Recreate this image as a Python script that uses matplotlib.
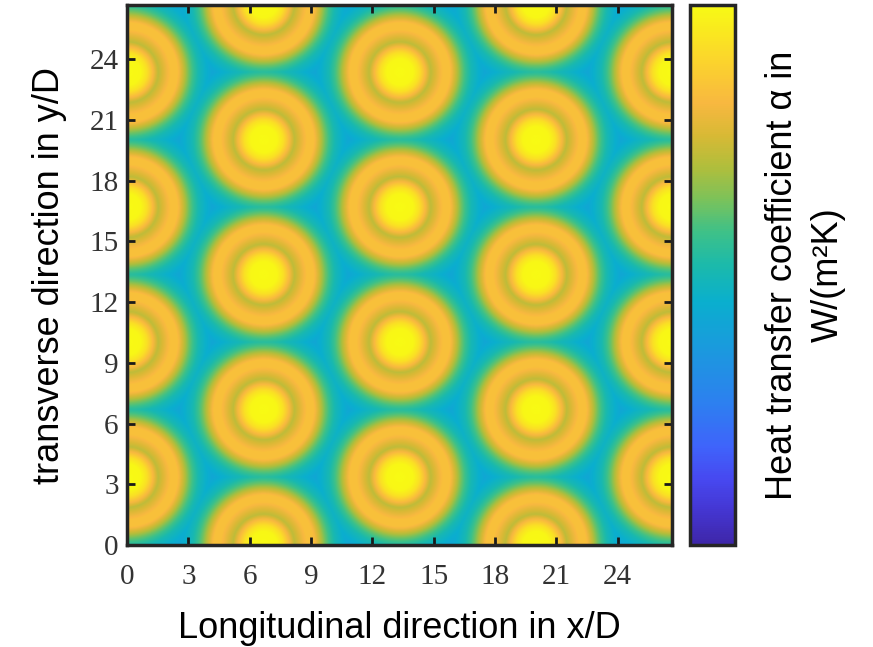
import numpy as np
import matplotlib.pyplot as plt
from matplotlib.colors import LinearSegmentedColormap

# Jet positions (x/D, y/D), staggered array
col_x_odd = [0.0, 13.33, 26.67]
col_y_odd = [-3.33, 3.33, 10.0, 16.67, 23.33, 30.0]
col_x_even = [6.67, 20.0]
col_y_even = [0.0, 6.67, 13.33, 20.0, 26.67]

# Radial heat transfer profile around one jet (normalised)
r_profile = [0.0, 0.65, 0.95, 1.2, 1.5, 1.8, 2.1, 2.45, 2.75, 3.0, 3.25, 3.5, 3.8, 4.2]
a_profile = [1.0, 0.99, 0.93, 0.84, 0.72, 0.78, 0.84, 0.84, 0.73, 0.63, 0.56, 0.50, 0.46, 0.41]

xticks = [0, 3, 6, 9, 12, 15, 18, 21, 24]
yticks = [0, 3, 6, 9, 12, 15, 18, 21, 24]
xmax = 26.67
ymax = 26.67

# parula-like colormap
parula_pos = [0.0, 0.06, 0.12, 0.18, 0.26, 0.35, 0.45, 0.52, 0.58, 0.64, 0.70, 0.76, 0.82, 0.90, 1.0]
parula_hex = ['#3e26a8', '#4435d0', '#4748f0', '#3f63fb', '#2d7ff0', '#1d96e0', '#0aafce',
              '#1cbaaa', '#3ec188', '#7bc25a', '#b0be3c', '#d8b935', '#f8b840', '#fbd52c', '#f8fa14']
parula = LinearSegmentedColormap.from_list('parula', list(zip(parula_pos, parula_hex)))

# build the field from nearest jet distance
jx = [x for x in col_x_odd for _ in col_y_odd] + [x for x in col_x_even for _ in col_y_even]
jy = col_y_odd * len(col_x_odd) + col_y_even * len(col_x_even)
xs = np.linspace(0, xmax, 500)
ys = np.linspace(0, ymax, 500)
X, Y = np.meshgrid(xs, ys)
dist = np.min([np.hypot(X - a, Y - b) for a, b in zip(jx, jy)], axis=0)
alpha = np.interp(dist, r_profile, a_profile)

fig = plt.figure(figsize=(8.73, 6.47), dpi=100)
ax = fig.add_axes([0.1455, 0.1576, 0.6245, 0.8347])
cax = fig.add_axes([0.790, 0.1576, 0.0515, 0.8347])

im = ax.imshow(alpha, extent=[0, xmax, 0, ymax], origin='lower', aspect='auto',
               cmap=parula, vmin=0, vmax=1, interpolation='bilinear')
ax.set_xlim(0, xmax)
ax.set_ylim(0, ymax)
ax.set_xticks(xticks)
ax.set_yticks(yticks)
ax.tick_params(direction='in', length=6, width=2, top=True, right=True,
               labelsize=21, color='#1a1a1a')
ax.tick_params(axis='x', pad=14)
ax.tick_params(axis='y', pad=6)
for lab in ax.get_xticklabels() + ax.get_yticklabels():
    lab.set_family('Liberation Serif')
    lab.set_color('#333333')
for s in ax.spines.values():
    s.set_linewidth(2.5)
    s.set_color('#262626')

ax.set_xlabel('Longitudinal direction in x/D', fontsize=26, family='Liberation Sans', labelpad=15)
ax.set_ylabel('transverse direction in y/D', fontsize=26, family='Liberation Sans', labelpad=16)

cb = fig.colorbar(im, cax=cax)
cb.set_ticks([])
cb.outline.set_linewidth(2.5)
cb.outline.set_edgecolor('#262626')
cb.set_label('Heat transfer coefficient α in\nW/(m²K)', fontsize=26,
             family='Liberation Sans', labelpad=22, linespacing=1.4)

fig.savefig('out.png', dpi=100)
